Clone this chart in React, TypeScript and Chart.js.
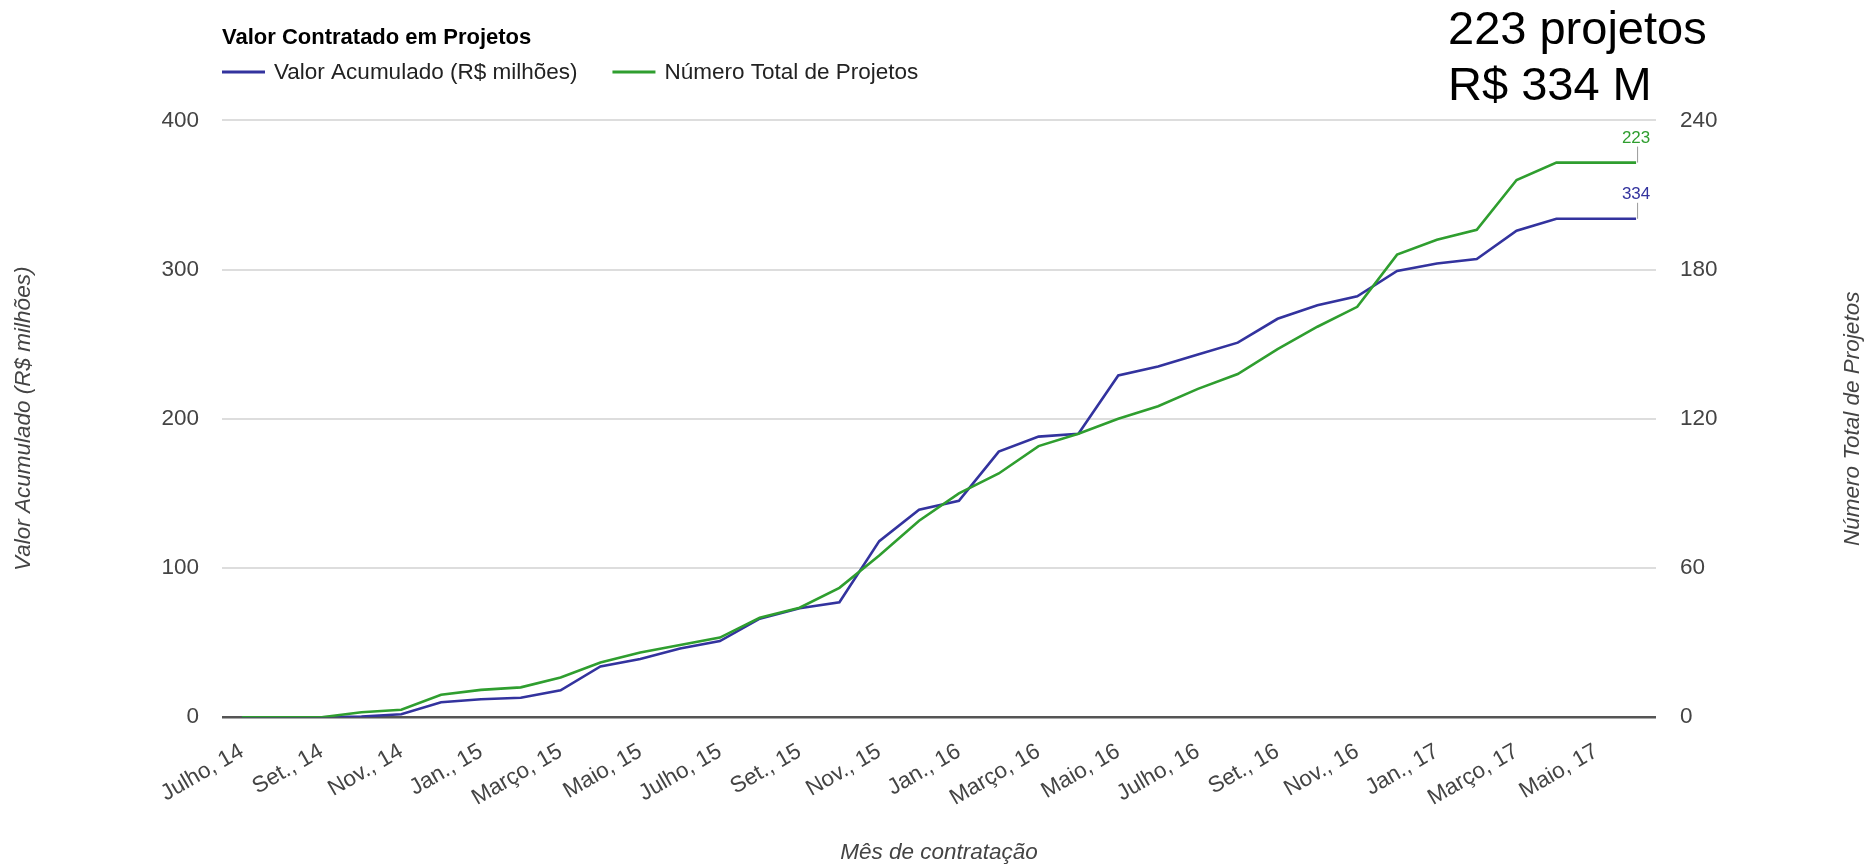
import React, { useEffect, useRef } from 'react';
import { Chart, registerables } from 'chart.js';

Chart.register(...registerables);

const FONT = '"Liberation Sans", Arial, Helvetica, sans-serif';

const CHART_TITLE = 'Valor Contratado em Projetos';
const X_TITLE = 'Mês de contratação';
const Y_LEFT_TITLE = 'Valor Acumulado (R$ milhões)';
const Y_RIGHT_TITLE = 'Número Total de Projetos';
const SUMMARY_LINES = ['223 projetos', 'R$ 334 M'];

const months = [
  'Julho, 14', 'Ago., 14', 'Set., 14', 'Out., 14', 'Nov., 14', 'Dez., 14',
  'Jan., 15', 'Fev., 15', 'Março, 15', 'Abril, 15', 'Maio, 15', 'Junho, 15',
  'Julho, 15', 'Ago., 15', 'Set., 15', 'Out., 15', 'Nov., 15', 'Dez., 15',
  'Jan., 16', 'Fev., 16', 'Março, 16', 'Abril, 16', 'Maio, 16', 'Junho, 16',
  'Julho, 16', 'Ago., 16', 'Set., 16', 'Out., 16', 'Nov., 16', 'Dez., 16',
  'Jan., 17', 'Fev., 17', 'Março, 17', 'Abril, 17', 'Maio, 17', 'Junho, 17',
];

const valorAcumulado = [
  0, 0, 0, 0.5, 2, 10, 12, 13, 18, 34, 39, 46,
  51, 66, 73, 77, 118, 139, 145, 178, 188, 190, 229, 235,
  243, 251, 267, 276, 282, 299, 304, 307, 326, 334, 334, 334,
];

const numeroProjetos = [
  0, 0, 0, 2, 3, 9, 11, 12, 16, 22, 26, 29,
  32, 40, 44, 52, 65, 79, 90, 98, 109, 114, 120, 125,
  132, 138, 148, 157, 165, 186, 192, 196, 216, 223, 223, 223,
];

const seriesNames = ['Valor Acumulado (R$ milhões)', 'Número Total de Projetos'];
const seriesColors = ['#33339e', '#2f9e2f'];

const leftTicksMax = 400;
const leftTickStep = 100;
const rightTicksMax = 240;
const rightTickStep = 60;

export default function App() {
  const ref = useRef<HTMLCanvasElement | null>(null);

  useEffect(() => {
    const canvas = ref.current;
    if (!canvas) return;

    const overlay = {
      id: 'overlay',
      afterDraw(chart: any) {
        const ctx = chart.ctx as CanvasRenderingContext2D;
        const area = chart.chartArea;
        ctx.save();

        // Title
        ctx.textAlign = 'left';
        ctx.textBaseline = 'alphabetic';
        ctx.fillStyle = '#000';
        ctx.font = `bold 22px ${FONT}`;
        ctx.fillText(CHART_TITLE, area.left, 44);

        // Legend
        ctx.font = `22.5px ${FONT}`;
        let x = area.left;
        const ly = 72;
        seriesNames.forEach((name, i) => {
          ctx.strokeStyle = seriesColors[i];
          ctx.lineWidth = 3;
          ctx.beginPath();
          ctx.moveTo(x, ly);
          ctx.lineTo(x + 43, ly);
          ctx.stroke();
          ctx.fillStyle = '#222';
          ctx.fillText(name, x + 52, 79);
          x += 52 + ctx.measureText(name).width + 35;
        });

        // End-of-line annotations
        ctx.font = `17px ${FONT}`;
        ctx.textAlign = 'center';
        chart.data.datasets.forEach((ds: any, i: number) => {
          const meta = chart.getDatasetMeta(i);
          const pt = meta.data[meta.data.length - 1];
          if (!pt) return;
          const px = pt.x;
          const py = pt.y;
          ctx.strokeStyle = '#999';
          ctx.lineWidth = 1;
          ctx.beginPath();
          ctx.moveTo(px + 1.5, py);
          ctx.lineTo(px + 1.5, py - 16);
          ctx.stroke();
          ctx.fillStyle = seriesColors[i];
          ctx.fillText(String(ds.data[ds.data.length - 1]), px, py - 20);
        });

        // Right axis title (reads bottom to top)
        ctx.save();
        ctx.translate(1853, (area.top + area.bottom) / 2);
        ctx.rotate(-Math.PI / 2);
        ctx.font = `italic 22.5px ${FONT}`;
        ctx.fillStyle = '#444';
        ctx.textAlign = 'center';
        ctx.textBaseline = 'middle';
        ctx.fillText(Y_RIGHT_TITLE, 0, 0);
        ctx.restore();

        // Summary annotation
        ctx.font = `47px ${FONT}`;
        ctx.fillStyle = '#000';
        ctx.textAlign = 'left';
        ctx.textBaseline = 'alphabetic';
        ctx.fillText(SUMMARY_LINES[0], 1448, 43.5);
        ctx.fillText(SUMMARY_LINES[1], 1448, 100);

        ctx.restore();
      },
    };

    const tickFont = { family: FONT, size: 22.5 };
    const titleFont = { family: FONT, size: 22.5, style: 'italic' as const };

    const chart = new Chart(canvas, {
      type: 'line',
      data: {
        labels: months,
        datasets: [
          {
            label: seriesNames[0],
            data: valorAcumulado,
            borderColor: seriesColors[0],
            backgroundColor: seriesColors[0],
            borderWidth: 2.6,
            pointRadius: 0,
            tension: 0,
            yAxisID: 'y',
            order: 2,
          },
          {
            label: seriesNames[1],
            data: numeroProjetos,
            borderColor: seriesColors[1],
            backgroundColor: seriesColors[1],
            borderWidth: 2.6,
            pointRadius: 0,
            tension: 0,
            yAxisID: 'y1',
            order: 1,
          },
        ],
      },
      options: {
        animation: false,
        responsive: false,
        maintainAspectRatio: false,
        layout: { padding: { top: 120.3, left: 0, right: 0, bottom: 0 } },
        plugins: {
          legend: { display: false },
          title: { display: false },
          tooltip: { enabled: false },
        },
        scales: {
          x: {
            type: 'category',
            offset: true,
            grid: { display: false, drawTicks: false },
            border: { display: false },
            ticks: {
              autoSkip: false,
              maxRotation: 30,
              minRotation: 30,
              padding: 21,
              color: '#444',
              font: tickFont,
              callback: (_v: any, i: number) => (i % 2 === 0 ? months[i] : ''),
            },
            title: {
              display: true,
              text: X_TITLE,
              color: '#444',
              font: titleFont,
              padding: { top: 0, bottom: 1 },
            },
            afterFit: (s: any) => {
              s.height = 149.8;
            },
          },
          y: {
            position: 'left',
            min: 0,
            max: leftTicksMax,
            ticks: { stepSize: leftTickStep, padding: 23, color: '#444', font: tickFont },
            grid: {
              drawTicks: false,
              color: (c: any) => (c.tick && c.tick.value === 0 ? '#555' : '#dddddd'),
              lineWidth: (c: any) => (c.tick && c.tick.value === 0 ? 2.5 : 2),
            },
            border: { display: false },
            title: {
              display: true,
              text: Y_LEFT_TITLE,
              color: '#444',
              font: titleFont,
              padding: { top: 10.5, bottom: 0 },
            },
            afterFit: (s: any) => {
              s.width = 222;
            },
          },
          y1: {
            position: 'right',
            min: 0,
            max: rightTicksMax,
            ticks: { stepSize: rightTickStep, padding: 24, color: '#444', font: tickFont },
            grid: { display: false, drawTicks: false },
            border: { display: false },
            afterFit: (s: any) => {
              s.width = 212;
            },
          },
        },
      } as any,
      plugins: [overlay],
    });

    return () => {
      chart.destroy();
    };
  }, []);

  return (
    <div style={{ position: 'absolute', left: 0, top: 0, width: 1868, height: 867, background: '#fff' }}>
      <canvas ref={ref} width={1868} height={867} />
    </div>
  );
}
